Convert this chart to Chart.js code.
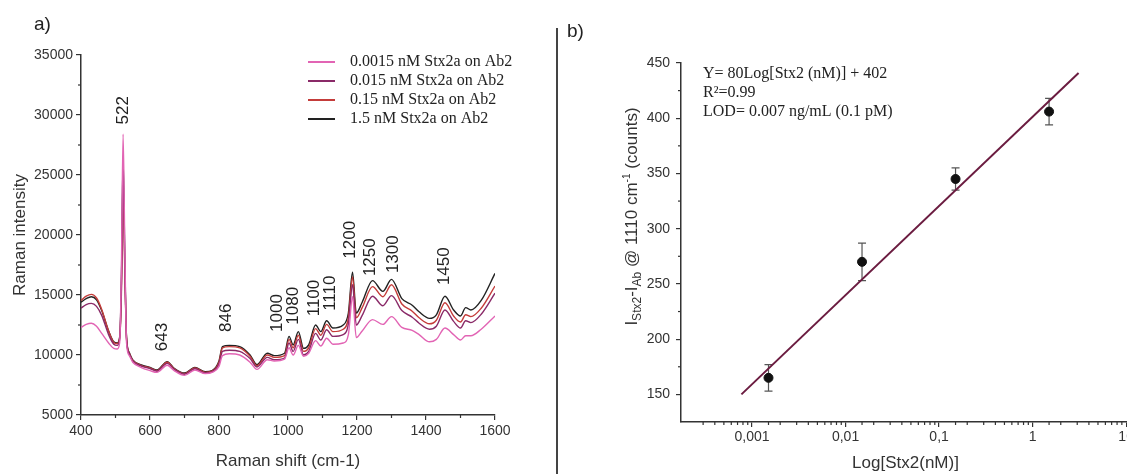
<!DOCTYPE html>
<html>
<head>
<meta charset="utf-8">
<script src="https://cdn.jsdelivr.net/npm/chart.js@4.4.1/dist/chart.umd.min.js"></script>
<style>
  html, body { margin:0; padding:0; background:#fff; overflow:hidden; width:1127px; height:474px; }
  #chartA { position:absolute; left:0; top:0; }
  #chartB { position:absolute; left:558px; top:0; }
  #divider { position:absolute; left:556px; top:28px; width:2px; height:446px; background:#444; }
</style>
</head>
<body>
<canvas id="chartA" width="557" height="474"></canvas>
<div id="divider"></div>
<canvas id="chartB" width="620" height="474"></canvas>
<script>
// a) Raman spectra
const shiftCm = [400,415,430,445,460,480,495,505,512,517,522,527,532,540,550,575,600,620,650,670,700,730,760,780,800,810,830,860,890,910,940,960,990,1003,1015,1030,1045,1060,1080,1095,1112,1130,1160,1175,1187,1198,1215,1245,1275,1300,1330,1360,1380,1410,1430,1455,1480,1500,1515,1530,1560,1600];
const int0p0015 = [12300,12550,12650,12400,11800,11000,10550,10500,11000,17000,28400,19000,11000,9950,9400,8950,8700,8550,9150,8700,8300,8750,8450,8550,9050,9950,10100,10000,9400,8800,9600,9500,9650,10600,10000,10800,9900,10150,11200,10750,11400,10900,11000,11700,14850,11450,12000,12950,12550,13200,12300,12050,11700,11100,11300,12250,11700,11250,11600,11600,12150,13250];
const int0p015 = [13900,14200,14300,14050,13300,11700,10900,10800,11300,15500,25200,17500,11300,10100,9500,9080,8870,8650,9300,8800,8400,8850,8500,8600,9250,10300,10400,10300,9700,9000,9800,9600,9750,11000,10300,11300,10000,10300,11800,11250,12100,11550,11700,12600,15850,12500,13300,14900,14100,14950,13700,13150,12650,12150,12400,13750,12800,12250,12850,12700,13400,15150];
const int0p15 = [14550,14900,15050,14750,13800,12000,11050,10950,11400,15000,23800,17000,11400,10150,9550,9120,8920,8700,9400,8850,8450,8920,8550,8650,9400,10600,10700,10600,9900,9100,10000,9800,9950,11300,10600,11650,10300,10600,12200,11650,12550,11950,12150,13100,16500,13100,13950,15700,14850,15850,14250,13650,13100,12600,12900,14350,13250,12750,13350,13200,13900,15750];
const int1p5 = [14400,14700,14860,14600,13700,12000,11100,11000,11500,16000,26500,18000,11500,10200,9600,9170,8970,8750,9450,8900,8500,8970,8600,8700,9500,10700,10800,10700,10000,9200,10150,9950,10150,11550,10850,11950,10550,10850,12500,11950,12850,12250,12500,13500,16900,13500,14400,16200,15300,16300,14700,14150,13600,13050,13350,14900,13750,13250,13950,13750,14550,16800];
const seriesLabels = ['0.0015 nM Stx2a on Ab2', '0.015 nM Stx2a on Ab2', '0.15 nM Stx2a on Ab2', '1.5 nM Stx2a on Ab2'];
const seriesValues = [int0p0015, int0p015, int0p15, int1p5];
const peakText = ['522','643','846','1000','1080','1100','1110','1200','1250','1300','1450'];
const peakX = [522, 637, 820, 970, 1016, 1075, 1122, 1182, 1240, 1304, 1452];
const peakY = [30400, 11500, 13100, 13500, 14100, 14750, 15150, 19600, 18150, 18400, 17400];

// b) calibration
const concNM = [0.0015, 0.015, 0.15, 1.5];
const intensity = [165, 270, 345, 406];
const intensityErr = [12, 17, 10, 12];
const fitX = [0.00077, 3.1];
const fitY = [150, 441];
const logTickExp = [-3, -2, -1, 0, 1];
const logTickLabels = ['0,001', '0,01', '0,1', '1', '10'];
const fitText = ['Y= 80Log[Stx2 (nM)] + 402', 'R\u00B2=0.99', 'LOD= 0.007 ng/mL (0.1 pM)'];

const seriesColors = ['#e264b4', '#8a2a68', '#c43c3a', '#222222'];
const sans = "'Liberation Sans', Arial, sans-serif";
const serif = "'Liberation Serif', 'Times New Roman', serif";
Chart.defaults.font.family = sans;
Chart.defaults.color = '#333';

// majors get the library's tick, minors (no label) a shorter one from minorTicks
function axisStyle() {
  return {
    grid: { drawOnChartArea: false, tickLength: 5, lineWidth: 1.2,
      tickColor: c => (c.tick && c.tick.label === '' ? 'rgba(0,0,0,0)' : '#333') },
    border: { color: '#333', width: 1.5 }
  };
}

const minorTicks = {
  id: 'minorTicks',
  afterDraw(chart) {
    const ctx = chart.ctx;
    const area = chart.chartArea;
    ctx.save();
    ctx.strokeStyle = '#333';
    ctx.lineWidth = 1.2;
    Object.values(chart.scales).forEach(s => {
      s.ticks.forEach((t, i) => {
        if (t.label !== '') return;
        const p = s.getPixelForTick(i);
        ctx.beginPath();
        if (s.isHorizontal()) {
          if (p < area.left + 1 || p > area.right) return;
          ctx.moveTo(p, s.top); ctx.lineTo(p, s.top + 3);
        } else {
          if (p > area.bottom - 1 || p < area.top) return;
          ctx.moveTo(s.right, p); ctx.lineTo(s.right - 3, p);
        }
        ctx.stroke();
      });
    });
    ctx.restore();
  }
};

const peakLabels = {
  id: 'peakLabels',
  afterDatasetsDraw(chart) {
    const { ctx, scales: { x, y } } = chart;
    ctx.save();
    ctx.font = '17px ' + sans;
    ctx.fillStyle = '#222';
    ctx.textAlign = 'center';
    ctx.textBaseline = 'middle';
    peakText.forEach((t, i) => {
      ctx.save();
      ctx.translate(x.getPixelForValue(peakX[i]), y.getPixelForValue(peakY[i]));
      ctx.rotate(-Math.PI / 2);
      ctx.fillText(t, 0, 0);
      ctx.restore();
    });
    ctx.restore();
  }
};

const legendA = {
  id: 'legendA',
  afterDraw(chart) {
    const ctx = chart.ctx;
    ctx.save();
    ctx.font = '16px ' + serif;
    ctx.textBaseline = 'middle';
    seriesLabels.forEach((lab, i) => {
      const yy = 62 + i * 19;
      ctx.strokeStyle = seriesColors[i];
      ctx.lineWidth = 2;
      ctx.beginPath(); ctx.moveTo(308, yy); ctx.lineTo(335, yy); ctx.stroke();
      ctx.fillStyle = '#222';
      ctx.fillText(lab, 350, yy);
    });
    ctx.font = '19px ' + sans;
    ctx.fillStyle = '#222';
    ctx.fillText('a)', 34, 25);
    ctx.restore();
  }
};

new Chart(document.getElementById('chartA'), {
  type: 'line',
  data: {
    datasets: seriesValues.map((vals, i) => ({
      label: seriesLabels[i],
      data: shiftCm.map((x, j) => ({ x: x, y: vals[j] })),
      borderColor: seriesColors[i],
      borderWidth: 1.4,
      pointRadius: 0,
      fill: false,
      cubicInterpolationMode: 'monotone'
    }))
  },
  options: {
    responsive: false,
    animation: false,
    layout: { padding: { left: 0, top: 55, right: 62, bottom: 0 } },
    plugins: { legend: { display: false }, tooltip: { enabled: false } },
    scales: {
      x: Object.assign(axisStyle(), {
        type: 'linear', min: 400, max: 1600,
        afterFit: s => { s.height = 59; },
        ticks: { stepSize: 100, autoSkip: false, maxRotation: 0, padding: 3, font: { size: 14 },
          callback: v => (v % 200 === 0 ? v : '') },
        title: { display: true, text: 'Raman shift (cm-1)', font: { size: 17 }, padding: { top: 0, bottom: 2 } }
      }),
      y: Object.assign(axisStyle(), {
        min: 5000, max: 35000,
        afterFit: s => { s.width = 81; },
        ticks: { stepSize: 2500, autoSkip: false, padding: 3, font: { size: 14 },
          callback: v => (v % 5000 === 0 ? v : '') },
        title: { display: true, text: 'Raman intensity', font: { size: 17 }, padding: { top: 10, bottom: 0 } }
      })
    }
  },
  plugins: [peakLabels, legendA, minorTicks]
});

const errorBars = {
  id: 'errorBars',
  beforeDatasetsDraw(chart) {
    const { ctx, scales: { x, y } } = chart;
    ctx.save();
    ctx.strokeStyle = '#555';
    ctx.lineWidth = 1.2;
    concNM.forEach((c, i) => {
      const px = x.getPixelForValue(c);
      const top = y.getPixelForValue(intensity[i] + intensityErr[i]);
      const bot = y.getPixelForValue(intensity[i] - intensityErr[i]);
      ctx.beginPath();
      ctx.moveTo(px, top); ctx.lineTo(px, bot);
      ctx.moveTo(px - 4, top); ctx.lineTo(px + 4, top);
      ctx.moveTo(px - 4, bot); ctx.lineTo(px + 4, bot);
      ctx.stroke();
    });
    ctx.restore();
  }
};

const textB = {
  id: 'textB',
  afterDraw(chart) {
    const ctx = chart.ctx;
    ctx.save();
    ctx.fillStyle = '#222';
    ctx.textBaseline = 'middle';
    ctx.font = '16px ' + serif;
    fitText.forEach((t, i) => ctx.fillText(t, 145, 74 + i * 19));
    ctx.font = '19px ' + sans;
    ctx.fillText('b)', 9, 32);

    // y title with sub/superscripts
    const parts = [['I', 17, 0], ['Stx2', 12, 4], ['-I', 17, 0], ['Ab', 12, 4], [' @ 1110 cm', 17, 0], ['-1', 10, -7], [' (counts)', 17, 0]];
    let total = 0;
    parts.forEach(p => { ctx.font = p[1] + 'px ' + sans; total += ctx.measureText(p[0]).width; });
    ctx.translate(72.5, 216.5);
    ctx.rotate(-Math.PI / 2);
    ctx.textBaseline = 'alphabetic';
    ctx.fillStyle = '#333';
    let xx = -total / 2;
    parts.forEach(p => {
      ctx.font = p[1] + 'px ' + sans;
      ctx.fillText(p[0], xx, 6 + p[2]);
      xx += ctx.measureText(p[0]).width;
    });
    ctx.restore();
  }
};

new Chart(document.getElementById('chartB'), {
  type: 'scatter',
  data: {
    datasets: [
      { label: 'fit', data: fitX.map((x, i) => ({ x: x, y: fitY[i] })), showLine: true,
        borderColor: '#6b1c40', borderWidth: 2, pointRadius: 0 },
      { label: 'data', data: concNM.map((x, i) => ({ x: x, y: intensity[i] })), showLine: false,
        pointRadius: 4.5, backgroundColor: '#111', borderColor: '#111' }
    ]
  },
  options: {
    responsive: false,
    animation: false,
    layout: { padding: { left: 0, top: 63, right: 48, bottom: 0 } },
    plugins: { legend: { display: false }, tooltip: { enabled: false } },
    scales: {
      x: Object.assign(axisStyle(), {
        type: 'logarithmic', min: 0.000174, max: 11,
        afterFit: s => { s.height = 52; },
        ticks: { autoSkip: false, maxRotation: 0, padding: 2, font: { size: 14 },
          callback: v => {
            const e = Math.log10(v);
            const k = logTickExp.indexOf(Math.round(e));
            return (Math.abs(e - Math.round(e)) < 1e-6 && k >= 0) ? logTickLabels[k] : '';
          } },
        title: { display: true, text: 'Log[Stx2(nM)]', font: { size: 17 }, padding: { top: 0, bottom: 0 } }
      }),
      y: Object.assign(axisStyle(), {
        min: 125, max: 450,
        afterFit: s => { s.width = 123; },
        ticks: { stepSize: 25, autoSkip: false, padding: 6, font: { size: 14 },
          callback: v => (v % 50 === 0 ? v : '') }
      })
    }
  },
  plugins: [errorBars, textB, minorTicks]
});
</script>
</body>
</html>
